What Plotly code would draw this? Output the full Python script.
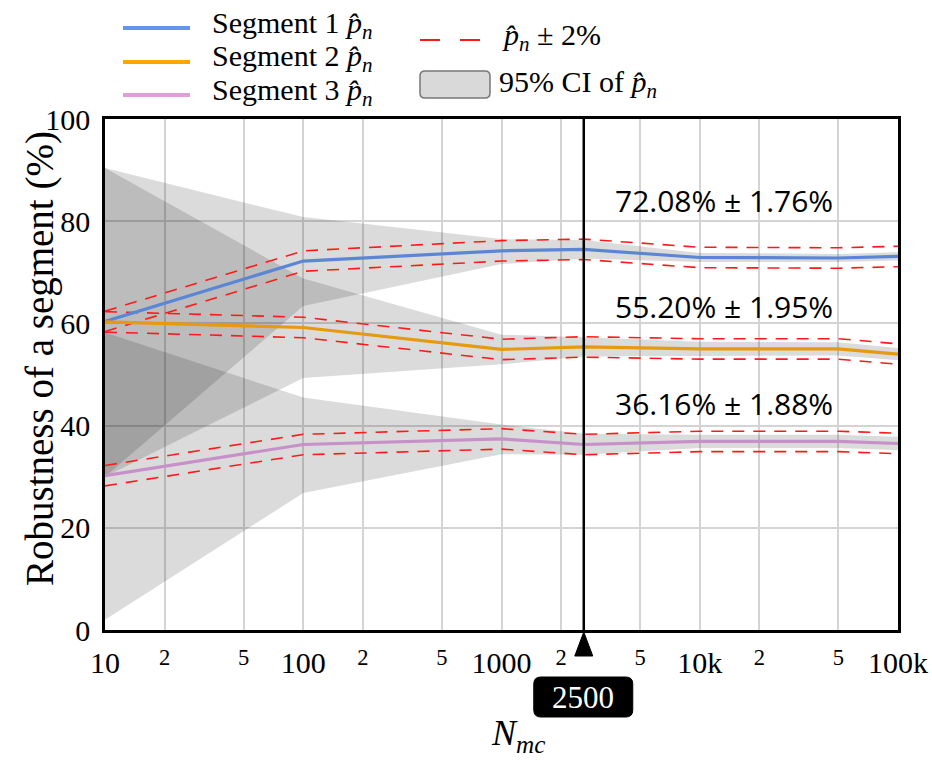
import math
import plotly.graph_objects as go

# ---------------- data ----------------
n_mc = [10, 100, 1000, 2600, 10000, 50000, 100000]
seg1 = [60.4, 72.2, 74.2, 74.5, 72.9, 72.8, 73.1]
seg2 = [60.3, 59.2, 54.9, 55.4, 55.0, 55.0, 54.0]
seg3 = [30.2, 36.3, 37.4, 36.3, 36.9, 36.9, 36.5]
seg1_ci_lo = [30.0, 63.4, 71.6, 72.7, 72.0, 72.0, 72.3]
seg1_ci_hi = [90.4, 80.8, 76.5, 76.3, 73.8, 73.6, 73.9]
seg2_ci_lo = [30.0, 49.3, 52.0, 53.5, 53.6, 53.7, 52.8]
seg2_ci_hi = [90.4, 68.8, 57.8, 57.3, 56.4, 56.3, 55.2]
seg3_ci_lo = [2.0, 26.8, 34.4, 34.3, 35.6, 35.6, 35.2]
seg3_ci_hi = [58.2, 45.5, 40.2, 38.4, 38.2, 38.2, 37.8]
band_pct = 2.0
chosen_n = 2600
chosen_label = "2500"
summary_text = ["72.08% ± 1.76%", "55.20% ± 1.95%", "36.16% ± 1.88%"]
summary_y = [84.1, 63.3, 44.4]
seg_names = ["Segment 1", "Segment 2", "Segment 3"]

# ---------------- styles ----------------
line_cols = ["#5B86D6", "#E59A10", "#C890C8"]
legend_cols = ["#6495ED", "#FFA500", "#DDA0DD"]
ci_fill = "rgba(0,0,0,0.14)"
SERIF = "Liberation Serif"
SANS = "Open Sans"
PHAT = "<i>p&#770;</i><sub><i>n</i></sub>"

# plot area in pixels
L, R, T, B = 105, 898, 119, 630
W, H = R - L, B - T


def px(x):
    return (x - L) / W


def py(y):
    return (B - y) / H


def rounded_rect(x0, x1, y0, y1, r):
    return (f"M {px(x0 + r)},{py(y0)} L {px(x1 - r)},{py(y0)} "
            f"Q {px(x1)},{py(y0)} {px(x1)},{py(y0 + r)} L {px(x1)},{py(y1 - r)} "
            f"Q {px(x1)},{py(y1)} {px(x1 - r)},{py(y1)} L {px(x0 + r)},{py(y1)} "
            f"Q {px(x0)},{py(y1)} {px(x0)},{py(y1 - r)} L {px(x0)},{py(y0 + r)} "
            f"Q {px(x0)},{py(y0)} {px(x0 + r)},{py(y0)} Z")


fig = go.Figure()

segs = [seg1, seg2, seg3]
cis = [(seg1_ci_lo, seg1_ci_hi), (seg2_ci_lo, seg2_ci_hi), (seg3_ci_lo, seg3_ci_hi)]

# CI bands
for lo, hi in cis:
    fig.add_trace(go.Scatter(x=n_mc, y=lo, mode="lines", line=dict(width=0),
                             showlegend=False, hoverinfo="skip"))
    fig.add_trace(go.Scatter(x=n_mc, y=hi, mode="lines", line=dict(width=0),
                             fill="tonexty", fillcolor=ci_fill,
                             showlegend=False, hoverinfo="skip"))

# +-2% dashed
for s in segs:
    for sign in (1, -1):
        fig.add_trace(go.Scatter(x=n_mc, y=[v + sign * band_pct for v in s], mode="lines",
                                 line=dict(color="#FF1A1A", width=1.6, dash="12px,9px"),
                                 showlegend=False, hoverinfo="skip"))

# main lines
for s, c in zip(segs, line_cols):
    fig.add_trace(go.Scatter(x=n_mc, y=s, mode="lines", line=dict(color=c, width=3.2),
                             showlegend=False))

# chosen N vertical line
fig.add_trace(go.Scatter(x=[chosen_n, chosen_n], y=[0, 100], mode="lines",
                         line=dict(color="black", width=2.5), showlegend=False,
                         hoverinfo="skip"))

shapes = []
annotations = []

# summary annotations
for txt, yv in zip(summary_text, summary_y):
    annotations.append(dict(x=4.12, y=yv, xref="x", yref="y", text=txt, showarrow=False,
                            font=dict(family=SANS, size=30, color="black"),
                            xanchor="center", yanchor="middle"))

# chosen-N marker triangle and label box
cx = L + (math.log10(chosen_n) - 1) / 4 * W
shapes.append(dict(type="path", xref="paper", yref="paper",
                   path=f"M {px(cx)},{py(632)} L {px(cx + 9)},{py(656)} L {px(cx - 9)},{py(656)} Z",
                   fillcolor="black", line=dict(color="black", width=1)))
shapes.append(dict(type="path", path=rounded_rect(cx - 50, cx + 49, 677, 717, 7),
                   xref="paper", yref="paper",
                   fillcolor="black", line=dict(color="black", width=1)))
annotations.append(dict(x=px(cx - 1), y=py(697), xref="paper", yref="paper",
                        text=chosen_label, showarrow=False,
                        font=dict(family=SERIF, size=31, color="white"),
                        xanchor="center", yanchor="middle"))

# axis titles
annotations.append(dict(x=px(518), y=py(735), xref="paper", yref="paper",
                        text="<i>N</i><sub><i>mc</i></sub>", showarrow=False,
                        font=dict(family=SERIF, size=36, color="black"),
                        xanchor="center", yanchor="middle"))
annotations.append(dict(x=px(40), y=py(359), xref="paper", yref="paper",
                        text="Robustness of a segment (%)", showarrow=False, textangle=-90,
                        font=dict(family=SERIF, size=39, color="black"),
                        xanchor="center", yanchor="middle"))

# manual legend
leg_y = [28, 62, 95]
leg_ty = [25, 58, 92]
for name, col, ly, ty in zip(seg_names, legend_cols, leg_y, leg_ty):
    shapes.append(dict(type="line", xref="paper", yref="paper", x0=px(123), x1=px(190),
                       y0=py(ly), y1=py(ly), line=dict(color=col, width=4)))
    annotations.append(dict(x=px(210), y=py(ty), xref="paper", yref="paper",
                            text=f"{name} {PHAT}", showarrow=False,
                            font=dict(family=SERIF, size=30, color="black"),
                            xanchor="left", yanchor="middle"))
for a, b in ((420, 440), (460, 480)):
    shapes.append(dict(type="line", xref="paper", yref="paper", x0=px(a), x1=px(b),
                       y0=py(40), y1=py(40), line=dict(color="#FF1A1A", width=2)))
annotations.append(dict(x=px(500), y=py(37), xref="paper", yref="paper",
                        text=f"{PHAT} ± 2%", showarrow=False,
                        font=dict(family=SERIF, size=30, color="black"),
                        xanchor="left", yanchor="middle"))
shapes.append(dict(type="path", path=rounded_rect(420, 490, 71, 98, 5),
                   xref="paper", yref="paper",
                   fillcolor="#D9D9D9", line=dict(color="#777777", width=1.5)))
annotations.append(dict(x=px(497), y=py(84), xref="paper", yref="paper",
                        text=f"95% CI of {PHAT}", showarrow=False,
                        font=dict(family=SERIF, size=30, color="black"),
                        xanchor="left", yanchor="middle"))

fig.update_layout(
    width=932, height=762,
    margin=dict(l=L, r=932 - R, t=T, b=762 - B),
    paper_bgcolor="white", plot_bgcolor="white",
    font=dict(family=SERIF, color="black"),
    showlegend=False,
    shapes=shapes, annotations=annotations,
    xaxis=dict(type="log", range=[1, 5], dtick="D2", showgrid=True, automargin=False,
               gridcolor="#D4D4D4", gridwidth=1.5, showline=True, mirror=True,
               linecolor="black", linewidth=2.5, ticks="", zeroline=False,
               tickfont=dict(family=SERIF, size=30, color="black"),
               ticklabelstandoff=4),
    yaxis=dict(range=[0, 100], dtick=20, showgrid=True, gridcolor="#D4D4D4",
               gridwidth=1.5, showline=True, mirror=True, linecolor="black",
               linewidth=2.5, ticks="", zeroline=False, automargin=False,
               tickfont=dict(family=SERIF, size=30, color="black"),
               ticklabelstandoff=6),
)

fig.write_html("out.html")
